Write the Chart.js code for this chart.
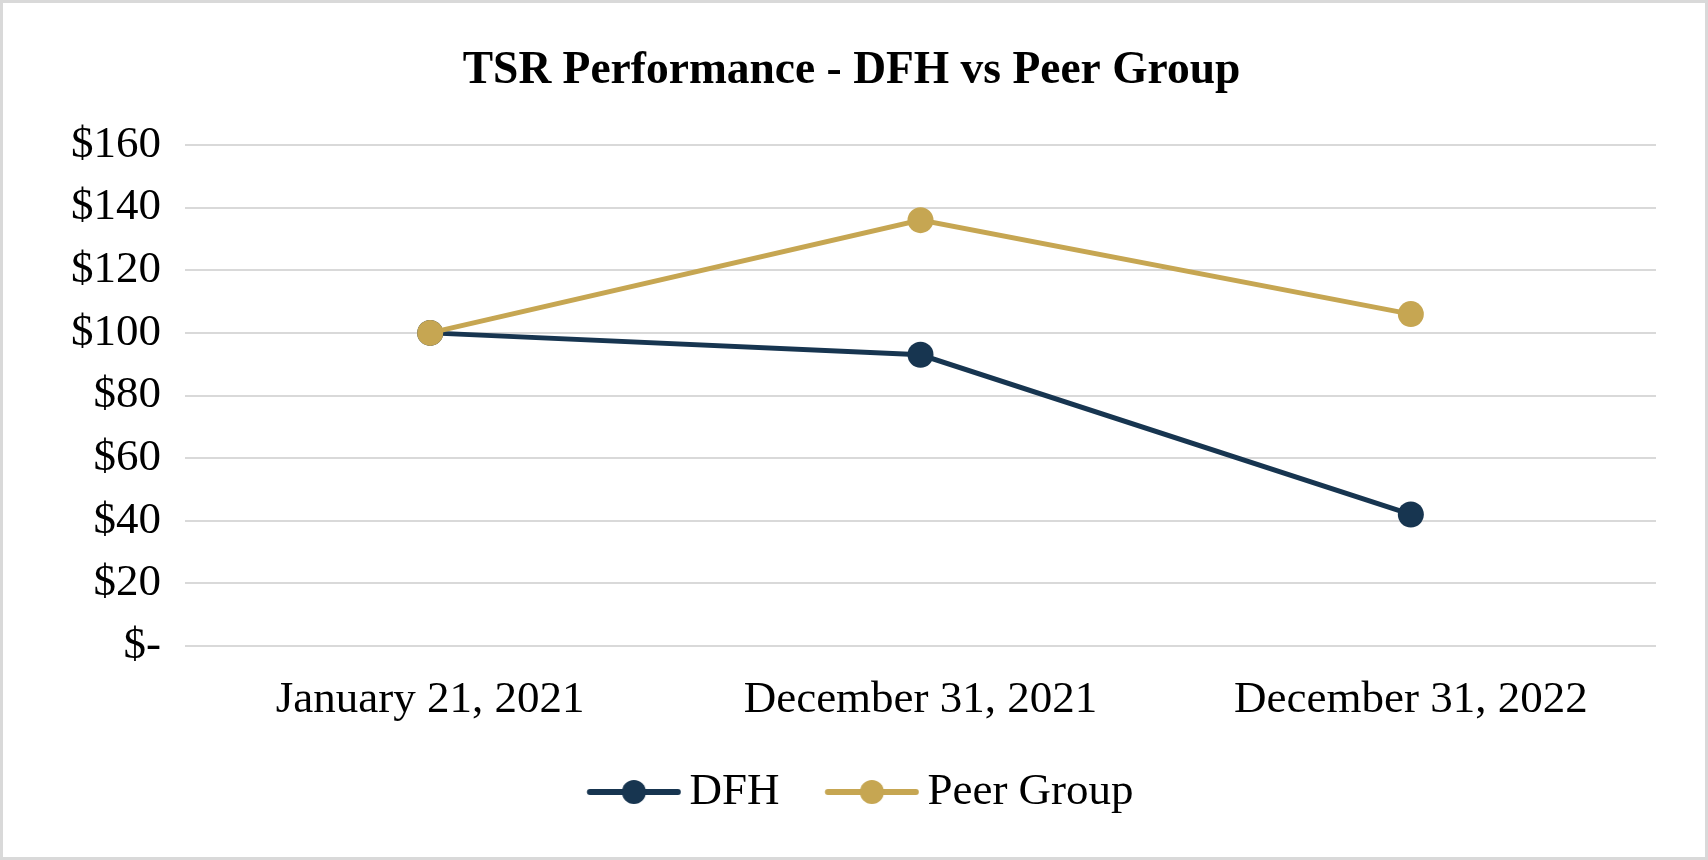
<!DOCTYPE html>
<html>
<head>
<meta charset="utf-8">
<script src="https://cdn.jsdelivr.net/npm/chart.js@4/dist/chart.umd.min.js"></script>
<style>
  html, body { margin: 0; padding: 0; background: #fff; }
  #wrap { position: relative; width: 1708px; height: 860px; box-sizing: border-box; border: 3px solid #d9d9d9; }
  #wrap canvas { position: absolute; left: -3px; top: -3px; }
</style>
</head>
<body>
<div id="wrap"><canvas id="c" width="1708" height="860"></canvas></div>
<script>
const chartTitle = 'TSR Performance - DFH vs Peer Group';
const categories = ['January 21, 2021', 'December 31, 2021', 'December 31, 2022'];
const dfhValues = [100, 93, 42];
const peerValues = [100, 136, 106];
const seriesNames = ['DFH', 'Peer Group'];
const seriesColors = ['#173550', '#c6a652'];
const yTickValues = [0, 20, 40, 60, 80, 100, 120, 140, 160];
const yTickLabels = ['$-', '$20', '$40', '$60', '$80', '$100', '$120', '$140', '$160'];

const FONT = "'Liberation Serif', 'Times New Roman', serif";

function legendSample(color) {
  const W = 126, H = 28;
  const cv = document.createElement('canvas');
  cv.width = W; cv.height = H;
  const g = cv.getContext('2d');
  const x0 = 31.75, len = 94, cy = H / 2;
  g.strokeStyle = color; g.lineWidth = 6; g.lineCap = 'round';
  g.beginPath(); g.moveTo(x0 + 3, cy); g.lineTo(x0 + len - 3, cy); g.stroke();
  g.fillStyle = color;
  g.beginPath(); g.arc(x0 + len / 2, cy, 12, 0, Math.PI * 2); g.fill();
  return cv;
}
const samples = seriesColors.map(legendSample);

new Chart(document.getElementById('c'), {
  type: 'line',
  data: {
    labels: categories,
    datasets: [
      { label: seriesNames[0], data: dfhValues, borderColor: seriesColors[0], backgroundColor: seriesColors[0],
        borderWidth: 5, pointRadius: 13, pointHoverRadius: 13, pointBorderWidth: 0, tension: 0, yAxisID: 'y', order: 1 },
      { label: seriesNames[1], data: peerValues, borderColor: seriesColors[1], backgroundColor: seriesColors[1],
        borderWidth: 5, pointRadius: 13, pointHoverRadius: 13, pointBorderWidth: 0, tension: 0, yAxisID: 'y', order: 0 }
    ]
  },
  options: {
    responsive: false,
    animation: false,
    devicePixelRatio: 1,
    layout: { padding: { left: 3, right: 8, top: 3, bottom: 35.5 } },
    plugins: {
      tooltip: { enabled: false },
      title: {
        display: true, text: chartTitle, color: '#000',
        font: { family: FONT, size: 45.5, weight: 'bold', lineHeight: 1.2 },
        padding: { top: 40.5, bottom: 46.9 }
      },
      legend: {
        position: 'bottom',
        labels: {
          usePointStyle: true,
          pointStyleWidth: 97.5,
          padding: 28,
          color: '#000',
          font: { family: FONT, size: 45 },
          sort: (a, b) => a.datasetIndex - b.datasetIndex,
          generateLabels: (chart) => {
            const items = Chart.defaults.plugins.legend.labels.generateLabels(chart);
            items.forEach((it) => { it.pointStyle = samples[it.datasetIndex]; });
            return items;
          }
        }
      }
    },
    scales: {
      x: {
        offset: true,
        grid: { display: false, drawTicks: false },
        border: { display: false },
        ticks: { color: '#000', padding: 27, font: { family: FONT, size: 45 }, maxRotation: 0, autoSkip: false },
        afterFit: (s) => { s.height = 95.5; }
      },
      y: {
        min: 0, max: 160,
        afterBuildTicks: (s) => { s.ticks = yTickValues.map(v => ({ value: v })); },
        grid: { color: '#d9d9d9', lineWidth: 2, drawTicks: false },
        border: { display: false },
        ticks: {
          color: '#000', padding: 24, font: { family: FONT, size: 45 },
          callback: (v) => yTickLabels[yTickValues.indexOf(v)]
        },
        afterFit: (s) => { s.width = 182; }
      },
      yRightSpace: {
        type: 'linear', position: 'right', min: 0, max: 160,
        grid: { display: false, drawTicks: false },
        border: { display: false },
        ticks: { display: false },
        afterFit: (s) => { s.width = 44; }
      }
    }
  }
});
</script>
</body>
</html>
